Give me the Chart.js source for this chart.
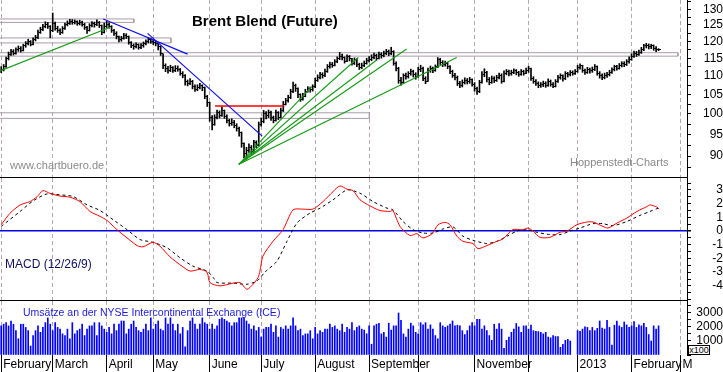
<!DOCTYPE html>
<html>
<head>
<meta charset="UTF-8">
<title>Brent Blend (Future)</title>
<script src="https://cdn.jsdelivr.net/npm/chart.js@4.4.0/dist/chart.umd.min.js"></script>
<style>
    body { margin: 0; background: #fff; font-family: "Liberation Sans", Arial, sans-serif; }
    .wrap { position: relative; width: 723px; height: 372px; overflow: hidden; background: #fff; }
    .wrap canvas { position: absolute; left: 0; }
    .txt { position: absolute; white-space: nowrap; line-height: 1; }
    .title { left: 192px; top: 13px; font-size: 15px; font-weight: bold; color: #000; }
    .mark { font-size: 11px; color: #8a8a8a; }
    .macd-label { left: 5px; top: 258px; font-size: 12px; color: #101060; }
    .vol-label { left: 23px; top: 307px; font-size: 10.5px; color: #1a1ad8; }
    .unit { left: 688px; top: 345px; width: 20px; height: 8px; border: 1px solid #000; font-size: 9px; line-height: 8px; text-align: center; background: #fff; }
</style>
</head>
<body>
<div class="wrap">
    <canvas id="priceChart" width="723" height="178" style="top:0"></canvas>
    <canvas id="macdChart" width="723" height="123" style="top:178px"></canvas>
    <canvas id="volChart" width="723" height="71" style="top:301px"></canvas>
    <div class="txt title">Brent Blend (Future)</div>
    <div class="txt mark" style="left:10px; top:160px">www.chartbuero.de</div>
    <div class="txt mark" style="left:570px; top:157px">Hoppenstedt-Charts</div>
    <div class="txt macd-label">MACD (12/26/9)</div>
    <div class="txt vol-label">Umsätze an der NYSE Intercontinental Exchange (ICE)</div>
    <div class="txt unit">x100</div>
</div>

<script>
// trading days Feb 2012 .. Feb 2013, index = trading day
const high = [
    112.6,113.2,115.3,116.8,117.6,117.5,118.0,118.6,118.4,119.1,
    119.9,120.6,120.2,121.0,121.8,123.4,124.3,125.2,126.0,125.8,
    124.8,128.8,125.9,124.6,123.8,124.5,125.6,126.3,126.8,126.7,
    126.6,126.3,126.5,126.2,125.5,124.6,125.4,126.1,125.9,126.6,
    126.1,125.0,125.6,126.2,125.7,124.8,123.6,122.9,121.6,121.5,
    122.4,122.3,121.6,119.9,119.2,119.5,119.2,119.3,119.8,120.4,
    121.1,120.9,120.4,120.0,119.5,118.6,116.3,113.4,112.7,113.0,
    112.6,112.9,112.8,112.1,111.2,110.4,108.9,109.3,108.8,107.6,
    107.6,108.0,107.6,107.0,104.8,103.0,99.6,99.8,101.0,100.8,
    101.8,101.0,99.8,98.7,98.8,98.4,97.6,96.8,95.6,93.0,
    92.0,92.8,92.4,93.6,93.5,98.0,99.0,100.9,100.6,101.0,
    100.7,99.5,101.0,100.6,101.5,103.2,104.0,104.8,106.4,108.3,
    107.8,106.8,105.2,105.3,106.4,107.1,107.0,107.6,109.4,110.3,
    111.0,110.9,111.9,113.2,113.9,113.8,114.6,115.4,116.7,116.2,
    115.4,116.0,115.8,115.0,115.1,114.8,113.6,113.6,114.2,115.0,
    115.5,116.0,116.5,116.2,116.8,116.6,117.1,117.6,117.4,118.2,
    117.2,114.0,112.4,109.6,110.6,110.8,111.2,111.9,111.6,110.9,
    112.4,113.0,112.5,109.8,112.2,112.8,112.5,113.1,115.2,115.0,
    114.3,114.2,113.8,112.9,111.6,110.7,110.0,108.5,108.9,109.5,
    109.3,109.6,109.2,108.2,107.0,108.8,111.2,112.0,111.3,109.6,
    110.0,109.8,110.2,110.8,110.6,111.4,111.8,111.6,111.6,112.0,
    111.8,111.3,111.8,111.6,112.2,112.7,112.2,109.8,109.0,108.4,
    108.2,108.6,108.4,109.2,108.9,108.2,109.0,110.2,110.6,110.3,
    111.2,111.0,111.5,111.4,111.8,113.0,113.4,113.0,111.9,112.4,
    112.2,112.5,113.2,112.8,111.2,110.6,110.8,111.0,111.6,112.3,
    113.0,113.0,113.5,114.0,114.0,114.6,115.4,116.3,117.1,117.0,
    117.4,118.2,119.1,119.4,119.2,119.1,118.9,118.4,117.8
];
const low = [
    110.9,111.4,112.4,114.5,115.8,115.9,116.2,117.0,116.8,117.1,
    118.2,118.9,118.6,118.9,120.1,120.8,122.4,123.2,124.1,123.9,
    121.0,122.9,123.4,122.7,122.0,122.4,123.6,124.7,125.2,125.2,
    125.3,124.9,125.0,124.6,123.6,122.4,123.1,124.4,124.3,124.8,
    124.2,122.0,122.5,124.2,124.0,122.7,121.8,120.7,119.8,120.0,
    120.6,120.8,119.1,118.1,117.6,118.0,117.6,117.8,118.2,118.9,
    119.5,119.4,119.0,118.6,117.4,115.8,112.0,111.2,110.8,111.2,
    111.0,111.2,111.3,110.2,109.5,107.5,107.3,107.6,106.5,105.8,
    106.0,106.5,106.0,103.9,101.9,98.2,96.1,97.2,98.8,99.0,
    99.4,98.9,97.8,97.0,97.2,96.6,95.8,94.6,92.0,89.6,
    89.3,90.8,90.4,90.8,91.9,92.3,97.0,97.8,98.8,99.1,
    98.4,97.8,98.2,98.6,99.0,100.6,102.3,103.0,103.9,105.5,
    105.8,104.2,103.2,103.5,104.4,105.6,105.6,105.9,106.8,108.5,
    109.2,109.4,109.8,111.0,112.2,112.4,112.8,113.7,114.6,114.5,
    113.6,114.0,114.2,113.0,113.2,112.6,111.8,112.0,112.6,113.3,
    113.9,114.3,114.8,114.4,114.8,115.0,115.4,116.0,115.7,116.0,
    113.0,111.4,108.0,107.5,108.0,109.1,109.4,110.2,109.7,109.1,
    109.6,111.2,108.7,107.9,108.5,111.0,110.9,111.3,112.3,113.2,
    112.6,112.7,112.0,110.6,109.6,108.9,107.4,106.8,107.0,107.8,
    107.8,108.0,107.2,105.9,105.0,105.5,108.0,109.8,108.4,107.6,
    108.0,108.2,108.5,109.2,108.0,108.4,110.3,110.0,110.2,110.6,
    110.3,109.9,110.2,110.2,110.6,111.0,108.8,108.0,107.4,106.8,
    106.9,107.1,106.9,107.2,107.2,106.8,107.0,108.2,109.1,108.6,
    109.0,109.7,110.0,110.2,110.4,111.0,111.9,111.0,110.4,110.7,
    110.8,111.0,111.5,110.2,109.4,109.0,109.2,109.6,110.0,110.7,
    111.4,111.6,111.9,112.5,112.6,112.9,113.6,114.4,115.2,115.5,
    115.8,116.4,117.2,118.0,117.7,117.8,117.3,116.9,117.2
];
const close = [
    111.8,112.5,114.8,116.2,117.0,116.5,117.4,117.9,117.3,118.6,
    119.3,119.8,119.1,120.4,121.0,122.8,123.6,124.5,125.3,124.6,
    123.2,125.5,124.0,123.3,122.6,123.9,125.0,125.6,126.2,125.8,
    126.0,125.4,125.9,125.2,124.3,123.4,124.8,125.5,125.0,125.8,
    124.9,122.8,124.5,125.3,124.6,123.2,122.5,121.3,120.6,120.9,
    121.8,121.4,119.6,118.7,118.3,118.9,118.1,118.6,119.2,119.8,
    120.5,119.9,119.6,119.2,118.3,116.5,112.8,112.0,111.5,112.3,
    111.6,112.2,111.9,110.8,110.2,108.4,107.9,108.6,107.2,106.4,
    106.9,107.3,106.8,104.5,102.8,99.0,97.5,99.2,100.3,99.6,
    100.8,99.4,98.3,97.6,98.0,97.2,96.5,95.4,92.8,90.5,
    91.2,92.0,91.0,93.0,92.5,97.5,98.2,100.2,99.5,100.4,
    99.0,98.4,100.3,99.2,100.8,102.5,103.4,104.1,105.8,107.4,
    106.5,104.9,103.8,104.6,105.8,106.5,106.2,107.0,108.8,109.6,
    110.4,110.0,111.3,112.6,113.2,113.0,114.0,114.8,115.6,115.1,
    114.2,115.4,114.8,113.6,114.5,113.2,112.4,112.9,113.6,114.4,
    114.6,115.2,115.8,115.0,116.2,115.7,116.4,116.9,116.3,117.0,
    113.6,112.0,108.8,108.2,110.0,109.8,110.6,111.2,110.3,109.8,
    111.8,112.2,109.4,108.6,111.5,112.0,111.6,112.5,114.6,113.8,
    113.2,113.5,112.6,111.2,110.2,109.6,108.0,107.4,108.2,108.8,
    108.4,108.9,107.8,106.5,105.8,108.2,110.5,111.0,109.0,108.2,
    109.4,108.8,109.6,110.2,108.6,110.8,111.2,110.6,111.0,111.4,
    110.9,110.5,111.2,110.8,111.6,112.0,109.4,108.6,108.0,107.3,
    107.6,108.0,107.4,108.6,107.8,107.2,108.5,109.6,110.0,109.2,
    110.6,110.3,111.0,110.8,111.2,112.4,112.8,111.5,111.0,111.8,
    111.4,111.9,112.6,110.8,110.0,109.6,110.2,110.4,111.0,111.8,
    112.5,112.2,113.0,113.5,113.2,114.0,114.6,115.6,116.5,116.2,
    116.8,117.6,118.6,118.8,118.3,118.6,117.9,117.6,117.4
];
// volume in units of 100 contracts
const volume = [
    2080,2200,2310,2080,2430,2200,1740,1160,2200,2200,
    1970,1740,640,1390,1740,2080,1620,1970,2310,2650,
    2200,1740,2310,1970,1850,1510,1390,1850,1160,2310,
    1510,1740,1850,2200,1390,1850,2080,2080,2310,1390,
    2310,2080,1850,1620,1970,1510,2200,1740,2200,2430,
    2430,1510,1850,2200,2430,1970,1740,1620,1850,2200,
    1740,2650,1850,2200,2430,1850,1740,2650,2200,2650,
    2200,1740,2200,1510,1970,590,1740,2430,2650,2200,
    1850,2200,2650,2310,2200,1850,2200,1850,2080,2550,
    2650,2550,2430,2310,2080,2310,2310,2650,2650,2650,
    2430,2200,1850,2080,1740,1970,1280,1850,1970,1970,
    2200,1620,2080,1280,1970,1850,2080,1850,2080,2650,
    2080,1740,1850,1390,1510,1510,1740,1160,1970,1510,
    1740,1620,1850,1850,2200,1970,2080,1850,1740,2200,
    1620,1970,1850,2310,1740,1970,2080,
    1850,1780,1510,2080,770,2080,2200,2270,1510,
    1620,1280,2270,1780,2080,2080,3000,2480,1510,1280,
    1850,2270,2080,1620,1510,2310,2150,2310,1850,
    2150,1850,1390,1160,2310,2080,1970,2080,2200,2430,
    2080,2130,2080,1740,1460,1740,2080,2310,2080,
    2550,2550,1850,2080,1740,1390,1050,2200,1850,
    2250,1850,480,1050,1280,1620,1850,2250,2010,1620,
    2080,2080,1850,2130,1740,1690,1670,1620,1510,
    1620,1280,1230,1390,1320,1320,550,770,1050,1120,
    1000,null,null,
    1740,1690,1850,2010,1970,1740,1970,1740,1900,2430,
    1920,1850,2480,1970,710,2130,2430,2080,1970,2360,
    2150,1970,2080,2380,1970,2150,2080,2270,1970,1460,
    1000,2080,1850,2080
];
// MACD (12/26/9): line and signal, read at trading-day positions
const macdDay = [0,3.6,7.7,11.7,14.6,17,19.9,24,28,32.1,36.2,40.3,43.1,47.2,51.3,55.4,57.8,61.9,64.7,68.8,
    73.7,77,81,83.9,85.1,89.2,94.5,97.4,100.2,102.7,104.7,105.5,106.7,110.8,114.9,119,123,127.1,131.2,135.3,
    138.1,141,143.4,146.3,150.3,154.4,158.5,159.7,162.6,166.7,169.5,171.9,175.6,178.1,180.9,183,185.8,188.3,192.3,194.4,
    198,202.1,204.6,208.6,212.7,214.8,216.8,219.7,223.7,227.8,230.7,234.7,238.8,241.3,245.3,247.4,251.1,255.1,259.2,263.3,
    264.5,267.3,268.2];
const macdVal = [0.46,1.3,1.9,2.15,2.5,2.95,2.75,2.55,2.47,2.15,1.43,1.07,0.78,0.1,-0.5,-1.06,-1.15,-0.82,-1.1,-1.88,
    -2.56,-2.92,-2.8,-3.0,-3.76,-4.0,-3.8,-3.76,-4.25,-3.88,-3.4,-2.92,-1.83,-0.75,0.1,1.55,1.6,1.6,2.15,2.88,
    3.29,3.05,2.95,2.28,1.84,1.5,1.43,1.5,0.34,-0.33,-0.19,-0.5,-0.21,0.46,0.63,0.46,-0.38,-0.75,-0.91,-1.28,
    -1.06,-0.75,-0.57,0.1,0.1,0.22,0,-0.46,-0.46,-0.09,0,0.46,0.66,0.66,0.34,0.22,0.59,0.95,1.43,1.79,
    1.91,1.75,1.6];
const signalDay = [0,7.7,13,18.7,24,29.3,35,40.3,45.6,51.3,56.6,61.9,67.6,72.9,78.2,83.9,86.5,88,94.5,100.2,
    104.3,107.5,112.4,116.5,120.6,125.9,130,135.3,141,146.3,151.6,157.3,159.7,163.8,167.9,171.9,176.1,180.1,184.2,188.3,
    192.3,198,202.1,206.2,210.3,214.4,218.4,223.7,227.8,231.9,235.9,241.3,245.3,249.4,255.1,260.4,264.5,267.8];
const signalVal = [0.34,1.43,2.2,2.71,2.64,2.52,1.91,1.5,0.83,0.1,-0.62,-0.82,-1.22,-1.95,-2.56,-2.92,-3.4,-3.76,-3.8,-3.88,
    -3.64,-3.0,-2.2,-0.75,0.59,1.31,1.67,2.28,3.0,2.76,2.15,1.67,1.55,0.7,0.1,-0.14,-0.14,0.15,0.3,-0.38,
    -0.67,-0.91,-0.75,-0.38,0,0.1,-0.09,-0.26,-0.26,0,0.22,0.54,0.54,0.39,0.7,1.14,1.43,1.67];

// month starts (trading-day index) and axis labels
const monthDays = [0, 21, 43, 62, 85, 106, 128, 150, 170, 193, 215, 235, 257, 277];
const monthNames = ['February', 'March', 'April', 'May', 'June', 'July', 'August', 'September', '', 'November', '', '2013', 'February', 'M'];
const priceTicks = [87.5, 90, 92.5, 95, 97.5, 100, 102.5, 105, 107.5, 110, 112.5, 115, 117.5, 120, 122.5, 125, 127.5, 130, 132.5];
const macdTicks = [-5, -4.5, -4, -3.5, -3, -2.5, -2, -1.5, -1, -0.5, 0, 0.5, 1, 1.5, 2, 2.5, 3, 3.5];
const volTicks = [0, 500, 1000, 1500, 2000, 2500, 3000, 3500];

// drawn analysis: zones [top, bottom, end day], trend lines [[day, price], [day, price]]
const zoneTop = [126.9, 121.0, 116.6, 100.3];
const zoneBottom = [125.8, 119.5, 115.6, 98.9];
const zoneEnd = [54.1, 69.2, 275.9, 150.1];
const supportLine = [[-0.5, 111.4], [44.4, 124.3]];
const downTrend1 = [[41.6, 126.9], [76.0, 116.2]];
const downTrend2 = [[59.7, 122.4], [106.4, 94.6]];
const resistance = [[87.2, 102.0], [115.4, 102.0]];
const fanOrigin = [96.9, 88.15];
const fanEnds = [[126.6, 107.1], [145.6, 115.2], [153.1, 114.5], [165.3, 117.7], [185.7, 115.2]];

const FONT = { family: '"Liberation Sans", Arial, sans-serif', size: 12 };
const GRID_COL = '#b4a6b4';

function noPad(s) {
    s.paddingTop = 0; s.paddingBottom = 0; s.paddingLeft = 0; s.paddingRight = 0;
}

function xScale(withLabels) {
    return {
        type: 'linear', min: -0.49, max: 279.6, bounds: 'data', offset: false,
        afterBuildTicks: s => { s.ticks = monthDays.map(v => ({ value: v })); },
        afterFit: s => { s.height = withLabels ? 17 : 1; noPad(s); },
        grid: {
            offset: false, color: GRID_COL, lineWidth: 1, borderDash: [4, 3],
            drawTicks: withLabels, tickLength: withLabels ? 17 : 0,
            tickColor: '#000', tickBorderDash: []
        },
        border: { display: !withLabels, color: '#000', width: 1, dash: [4, 3] },
        ticks: {
            display: withLabels, autoSkip: false, maxRotation: 0, minRotation: 0,
            align: 'start', labelOffset: 2, padding: -15, color: '#000', font: FONT,
            callback: (v, i) => monthNames[i]
        }
    };
}

function yScale(extra, ticksList, labelFn, pad) {
    return Object.assign({
        position: 'right', bounds: 'data', beginAtZero: false,
        afterFit: s => { s.width = 36; noPad(s); },
        afterBuildTicks: s => { s.ticks = ticksList.map(v => ({ value: v })); },
        grid: { drawOnChartArea: false, drawTicks: true, tickLength: 4, tickColor: '#000' },
        border: { display: true, color: '#000', width: 1 },
        ticks: { autoSkip: false, crossAlign: 'far', padding: pad, color: '#000', font: FONT, callback: labelFn }
    }, extra);
}

const baseOpts = {
    responsive: false, animation: false, devicePixelRatio: 1, events: [],
    layout: { padding: 0, autoPadding: false },
    plugins: { legend: { display: false }, tooltip: { enabled: false } }
};

function lineSet(points, color, width, order, dash) {
    return {
        type: 'line', data: points.map(p => ({ x: p[0], y: p[1] })),
        borderColor: color, borderWidth: width, borderDash: dash || [],
        pointRadius: 0, tension: 0, fill: false, order: order
    };
}

// close tick marker (right side of OHLC bar)
const tickImg = document.createElement('canvas');
tickImg.width = 5; tickImg.height = 1;
const tctx = tickImg.getContext('2d');
tctx.fillStyle = '#000';
tctx.fillRect(3, 0, 2, 1);

const days = close.map((_, i) => i);

const priceSets = [];
zoneTop.forEach((t, k) => {
    priceSets.push(lineSet([[-2, t], [zoneEnd[k], t], [zoneEnd[k], zoneBottom[k]], [-2, zoneBottom[k]]], '#a89ca8', 1, 6));
});
priceSets.push({
    type: 'bar', data: days.map(i => ({ x: i, y: [low[i], high[i]] })),
    backgroundColor: '#000', borderWidth: 0, barThickness: 1, grouped: false, order: 4
});
priceSets.push({
    type: 'scatter', data: days.map(i => ({ x: i, y: close[i] })),
    pointStyle: tickImg, pointRadius: 1, showLine: false, order: 3
});
priceSets.push(lineSet(supportLine, '#139a13', 1.2, 1));
priceSets.push(lineSet(downTrend1, '#1010f0', 1.2, 1));
priceSets.push(lineSet(downTrend2, '#1010f0', 1.2, 1));
priceSets.push(lineSet(resistance, '#ff0000', 1.5, 1));
fanEnds.forEach(e => priceSets.push(lineSet([fanOrigin, e], '#139a13', 1.1, 1)));

new Chart(document.getElementById('priceChart'), {
    type: 'line',
    data: { datasets: priceSets },
    options: Object.assign({}, baseOpts, {
        scales: {
            x: xScale(false),
            y: yScale({ type: 'logarithmic', min: 85.39, max: 133.07 }, priceTicks,
                v => (v % 5 === 0 ? String(v) : ''), 9)
        }
    })
});

new Chart(document.getElementById('macdChart'), {
    type: 'line',
    data: {
        datasets: [
            {
                data: macdDay.map((d, i) => ({ x: d, y: macdVal[i] })),
                borderColor: '#ff0000', borderWidth: 1, pointRadius: 0, tension: 0.25, order: 1
            },
            {
                data: signalDay.map((d, i) => ({ x: d, y: signalVal[i] })),
                borderColor: '#000', borderWidth: 1, borderDash: [3, 3], pointRadius: 0, tension: 0.25, order: 2
            }
        ]
    },
    options: Object.assign({}, baseOpts, {
        scales: {
            x: xScale(false),
            y: yScale({
                type: 'linear', min: -5.03, max: 3.87,
                grid: {
                    drawOnChartArea: true, drawTicks: true, tickLength: 4, tickColor: '#000',
                    color: c => (c.tick && c.tick.value === 0 ? '#0000e0' : 'rgba(0,0,0,0)'),
                    lineWidth: c => (c.tick && c.tick.value === 0 ? 1.5 : 1)
                }
            }, macdTicks, v => (Number.isInteger(v) && v > -5 ? String(v) : ''), 17)
        }
    })
});

new Chart(document.getElementById('volChart'), {
    type: 'line',
    data: {
        datasets: [{
            type: 'bar', data: days.map(i => ({ x: i, y: volume[i] })),
            backgroundColor: '#0000ff', borderWidth: 0, barThickness: 1, grouped: false
        }]
    },
    options: Object.assign({}, baseOpts, {
        scales: {
            x: xScale(true),
            y: yScale({ type: 'linear', min: 0, max: 3857 }, volTicks,
                v => (v > 0 && v % 1000 === 0 ? String(v) : ''), 2.3)
        }
    })
});
</script>
</body>
</html>
